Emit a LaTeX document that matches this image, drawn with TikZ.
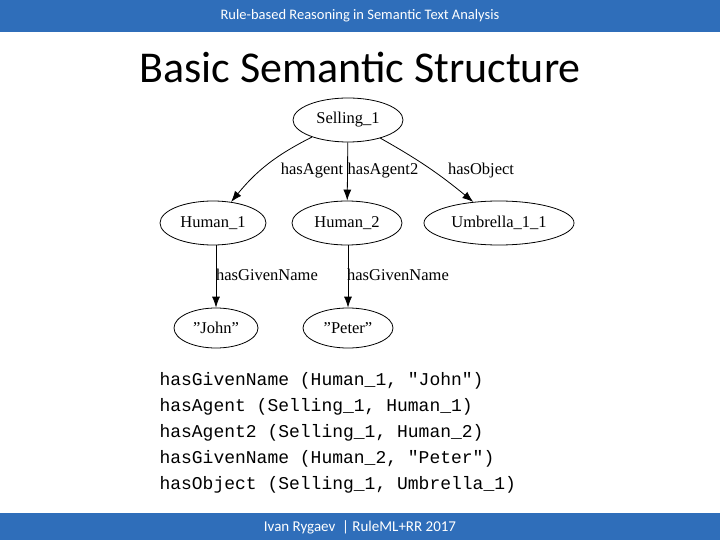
\documentclass[tikz,border=0pt]{standalone}
\usepackage{fontspec}
\setmainfont{Liberation Serif}
\newfontfamily\carfont{Carlito}
\newfontfamily\monofnt{Liberation Mono}
\usetikzlibrary{arrows.meta,shapes.geometric}
\definecolor{barblue}{HTML}{2F6EBA}
\newcommand{\dq}{\symbol{34}}
\begin{document}
\begin{tikzpicture}[x=1pt,y=-1pt,
  nd/.style={draw,ellipse,thick,inner sep=0pt,font=\fontsize{16.5}{16.5}\selectfont},
  ed/.style={draw,thick,-{Latex[length=11pt,width=8pt]}},
  lb/.style={font=\fontsize{16.5}{16.5}\selectfont},
  code/.style={anchor=west,font=\monofnt\fontsize{18}{18}\selectfont}]
\useasboundingbox (0,0) rectangle (720,540);
\fill[barblue] (0,0) rectangle (720,32);
\fill[barblue] (0,513) rectangle (720,540);
\node[text=white,font=\carfont\fontsize{14.5}{14.5}\selectfont] (hdr) at (360,16) {Rule-based Reasoning in Semantic Text Analysis};
\node[text=white,font=\carfont\fontsize{15}{15}\selectfont] (ftr) at (360,527) {Ivan Rygaev \ | RuleML+RR 2017};
\node[font=\carfont\fontsize{44}{44}\selectfont] (title) at (360,67) {Basic Semantic Structure};
\node[nd,minimum width=110pt,minimum height=44pt] (s) at (348,120) {Selling\_1};
\node[nd,minimum width=106pt,minimum height=44pt] (h1) at (213,223) {Human\_1};
\node[nd,minimum width=110pt,minimum height=44pt] (h2) at (347,223) {Human\_2};
\node[nd,minimum width=150pt,minimum height=44pt] (u) at (499,223) {Umbrella\_1\_1};
\node[nd,minimum width=84pt,minimum height=40pt] (j) at (216,328) {\dq John\dq};
\node[nd,minimum width=90pt,minimum height=40pt] (p) at (348,328) {\dq Peter\dq};
\draw[ed] (s) to[bend right=12] (h1);
\draw[ed] (s) -- (h2);
\draw[ed] (s) to[bend left=5] (u);
\draw[ed] (h1.south -| j) -- (j);
\draw[ed] (h2.south -| p) -- (p);
\node[lb] (l1) at (312,171) {hasAgent};
\node[lb] (l2) at (383,171) {hasAgent2};
\node[lb] (l3) at (481,171) {hasObject};
\node[lb] (l4) at (267,275) {hasGivenName};
\node[lb] (l5) at (398,275) {hasGivenName};
\node[code] (c1) at (156,381) {hasGivenName (Human\_1, \dq John\dq)};
\node[code] (c2) at (156,407) {hasAgent (Selling\_1, Human\_1)};
\node[code] (c3) at (156,433) {hasAgent2 (Selling\_1, Human\_2)};
\node[code] (c4) at (156,459) {hasGivenName (Human\_2, \dq Peter\dq)};
\node[code] (c5) at (156,485) {hasObject (Selling\_1, Umbrella\_1)};
\end{tikzpicture}
\end{document}
